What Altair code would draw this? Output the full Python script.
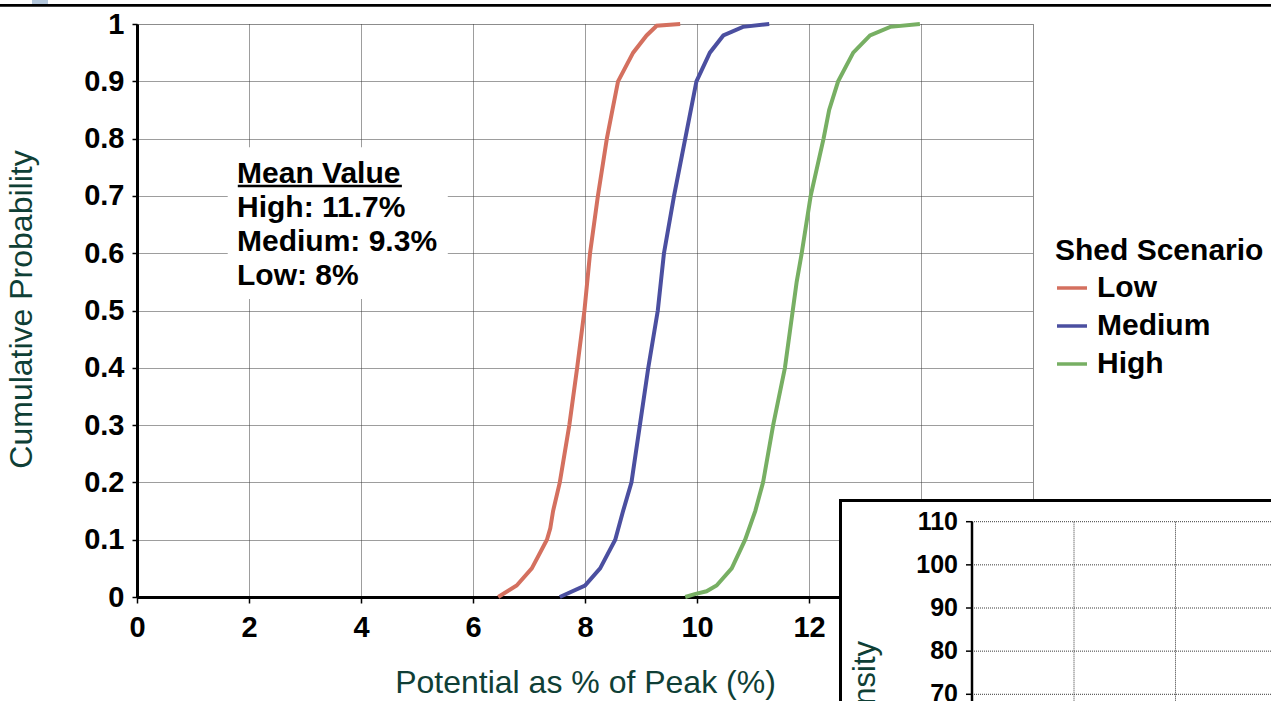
import altair as alt
import pandas as pd

# ---------------- data ----------------
scenarios = ["Low", "Medium", "High"]
colors = ["#D4705F", "#4B4FA0", "#77AF63"]

low_x = [6.45, 6.78, 7.05, 7.32, 7.38, 7.43, 7.55, 7.72, 7.86, 7.99, 8.09, 8.23, 8.39, 8.49, 8.59, 8.86, 9.10, 9.28, 9.70]
low_y = [0.00, 0.02, 0.05, 0.10, 0.12, 0.15, 0.20, 0.30, 0.40, 0.50, 0.60, 0.70, 0.80, 0.85, 0.90, 0.95, 0.98, 0.997, 1.00]

med_x = [7.55, 8.00, 8.27, 8.54, 8.68, 8.83, 8.98, 9.13, 9.30, 9.41, 9.59, 9.79, 9.99, 10.23, 10.47, 10.82, 11.29]
med_y = [0.00, 0.02, 0.05, 0.10, 0.15, 0.20, 0.30, 0.40, 0.50, 0.60, 0.70, 0.80, 0.90, 0.95, 0.98, 0.995, 1.00]

high_x = [9.79, 9.96, 10.17, 10.35, 10.62, 10.86, 11.04, 11.18, 11.36, 11.57, 11.71, 11.78, 11.87, 12.03, 12.26, 12.36, 12.52, 12.79, 13.09, 13.45, 13.98]
high_y = [0.00, 0.005, 0.01, 0.02, 0.05, 0.10, 0.15, 0.20, 0.30, 0.40, 0.50, 0.55, 0.60, 0.70, 0.80, 0.85, 0.90, 0.95, 0.98, 0.995, 1.00]

x_ticks = [0, 2, 4, 6, 8, 10, 12, 14, 16]
y_ticks = [0, 0.1, 0.2, 0.3, 0.4, 0.5, 0.6, 0.7, 0.8, 0.9, 1]

note_lines = ["Mean Value", "High: 11.7%", "Medium: 9.3%", "Low: 8%"]
note_x = [1.786, 1.786, 1.786, 1.786]
note_y = [0.738, 0.679, 0.620, 0.560]

inset_ticks = [110, 100, 90, 80, 70]

FONT = "Liberation Sans"
TEAL = "#0F3F36"
GRID = "#3a3a3a"

rows = []
for name, xs, ys in [("Low", low_x, low_y), ("Medium", med_x, med_y), ("High", high_x, high_y)]:
    for i, (xv, yv) in enumerate(zip(xs, ys)):
        rows.append({"scenario": name, "x": xv, "y": yv, "order": i})
df = pd.DataFrame(rows)

xscale = alt.Scale(domain=[0, 16], nice=False, zero=False)
yscale = alt.Scale(domain=[0, 1], nice=False)

x_axis = alt.Axis(
    values=x_ticks, title="Potential as % of Peak (%)", grid=True,
    gridColor=GRID, gridDash=[1, 1], gridWidth=1,
    domainColor="black", domainWidth=3,
    tickColor="black", tickSize=6, tickWidth=1.5,
    # labels 14 and 16 sit under the overlapping inset, so they are not shown
    labelExpr="datum.value >= 14 ? '' : format(datum.value, 'd')",
    labelFont=FONT, labelFontSize=29, labelFontWeight="bold", labelColor="black",
    labelPadding=10, labelFlush=False,
    titleFont=FONT, titleFontSize=32, titleFontWeight="normal", titleColor=TEAL,
    titleX=448, titleY=95, titleBaseline="alphabetic", titleAlign="center",
)
y_axis = alt.Axis(
    values=y_ticks, title="Cumulative Probability", grid=True,
    gridColor=GRID, gridDash=[1, 1], gridWidth=1,
    domainColor="black", domainWidth=3,
    tickColor="black", tickSize=5, tickWidth=1.5,
    labelExpr="datum.value == 0 ? '0' : datum.value == 1 ? '1' : format(datum.value, '.1f')",
    labelFont=FONT, labelFontSize=29, labelFontWeight="bold", labelColor="black",
    labelPadding=8, labelFlush=False,
    titleFont=FONT, titleFontSize=32, titleFontWeight="normal", titleColor=TEAL,
    titleX=-106, titleY=285, titleAngle=270, titleBaseline="alphabetic", titleAlign="center",
)

# white box behind the mean value note (data coordinates)
box_df = pd.DataFrame({"x": [1.62], "x2": [5.55], "y": [0.52], "y2": [0.785]})
note_box = alt.Chart(box_df).mark_rect(fill="white").encode(
    x=alt.X("x:Q", scale=xscale, axis=x_axis),
    x2="x2:Q",
    y=alt.Y("y:Q", scale=yscale, axis=y_axis),
    y2="y2:Q",
)

note_df = pd.DataFrame({"x": note_x, "y": note_y, "t": note_lines})
note_text = alt.Chart(note_df).mark_text(
    align="left", baseline="middle", font=FONT, fontSize=30, fontWeight="bold", color="black"
).encode(x=alt.X("x:Q", scale=xscale), y=alt.Y("y:Q", scale=yscale), text="t:N")

ul_df = pd.DataFrame({"x": [1.80], "x2": [4.73], "y": [0.7173]})
underline = alt.Chart(ul_df).mark_rule(color="black", strokeWidth=2.5).encode(
    x=alt.X("x:Q", scale=xscale), x2="x2:Q", y=alt.Y("y:Q", scale=yscale)
)

lines = alt.Chart(df).mark_line(strokeWidth=4).encode(
    x=alt.X("x:Q", scale=xscale),
    y=alt.Y("y:Q", scale=yscale),
    color=alt.Color(
        "scenario:N",
        scale=alt.Scale(domain=scenarios, range=colors),
        legend=alt.Legend(
            title="Shed Scenario", orient="none", legendX=918, legendY=212, padding=0,
            titleFont=FONT, titleFontSize=30, titleFontWeight="bold", titleColor="black",
            titlePadding=5, titleLimit=500,
            labelFont=FONT, labelFontSize=30, labelFontWeight="bold", labelColor="black",
            labelOffset=8, labelLimit=400,
            symbolType="stroke", symbolSize=900, symbolStrokeWidth=3.5, rowPadding=6,
        ),
    ),
    order="order:Q",
)

main = alt.layer(note_box, note_text, underline, lines)

# ---------------- overlapping inset fragment (bottom right) ----------------
one = pd.DataFrame({"a": [0]})
inset_scale = alt.Scale(domain=[70, 110], range=[670.3, 497.7], nice=False, zero=False)
tick_df = pd.DataFrame({"v": inset_ticks, "t": [str(v) for v in inset_ticks]})

inset_box = alt.Chart(one).mark_rect(fill="white", stroke="black", strokeWidth=3).encode(
    x=alt.value(703.5), x2=alt.value(1160), y=alt.value(476.5), y2=alt.value(710)
)
inset_hgrid = alt.Chart(tick_df).mark_rule(color=GRID, strokeDash=[1, 1], strokeWidth=1).encode(
    y=alt.Y("v:Q", scale=inset_scale, axis=None), x=alt.value(835), x2=alt.value(1150)
)
inset_vgrid1 = alt.Chart(one).mark_rule(color=GRID, strokeDash=[1, 1], strokeWidth=1).encode(
    x=alt.value(937), y=alt.value(497.7), y2=alt.value(710)
)
inset_vgrid2 = alt.Chart(one).mark_rule(color=GRID, strokeDash=[1, 1], strokeWidth=1).encode(
    x=alt.value(1038.5), y=alt.value(497.7), y2=alt.value(710)
)
inset_axis = alt.Chart(one).mark_rule(color="black", strokeWidth=2.5).encode(
    x=alt.value(835), y=alt.value(497.7), y2=alt.value(710)
)
inset_tickmarks = alt.Chart(tick_df).mark_rule(color="black", strokeWidth=1.5).encode(
    y=alt.Y("v:Q", scale=inset_scale, axis=None), x=alt.value(829), x2=alt.value(835)
)
inset_labels = alt.Chart(tick_df).mark_text(
    align="right", baseline="middle", font=FONT, fontSize=25, fontWeight="bold", color="black"
).encode(y=alt.Y("v:Q", scale=inset_scale, axis=None), x=alt.value(821), text="t:N")
inset_title = alt.Chart(one).mark_text(
    text="Density", angle=270, align="right", baseline="alphabetic",
    font=FONT, fontSize=31, color=TEAL
).encode(x=alt.value(738), y=alt.value(617))

# screenshot frame line at the very top
top_line = alt.Chart(one).mark_rule(color="black", strokeWidth=2.7).encode(
    x=alt.value(-140), x2=alt.value(1140), y=alt.value(-18.7)
)
top_tab = alt.Chart(one).mark_rect(fill="#B4C7DC").encode(
    x=alt.value(-105), x2=alt.value(-89), y=alt.value(-24), y2=alt.value(-20)
)

inset = alt.layer(inset_box, inset_hgrid, inset_vgrid1, inset_vgrid2, inset_axis,
                  inset_tickmarks, inset_labels, inset_title, top_line, top_tab)

chart = alt.layer(main, inset).resolve_scale(y="independent").properties(
    width=896, height=573,
    padding={"left": 137, "top": 24, "right": 238, "bottom": 104},
    autosize=alt.AutoSizeParams(type="none"),
    background="white",
).configure_view(stroke=None).configure(font=FONT)

chart.save("out.html", embed_options={"renderer": "svg", "actions": False})
